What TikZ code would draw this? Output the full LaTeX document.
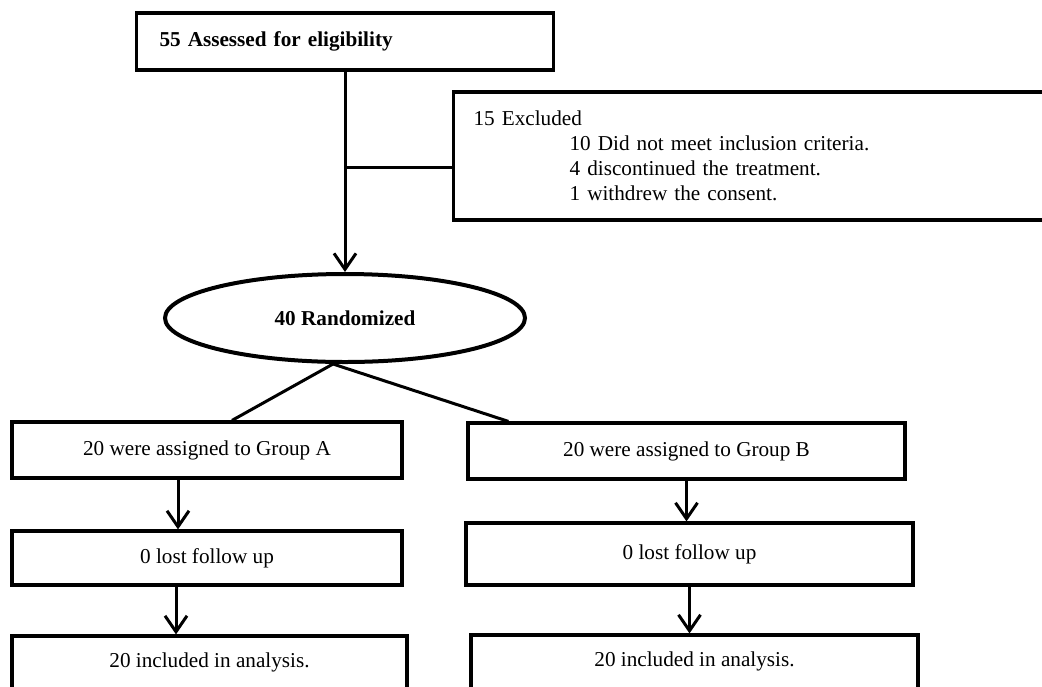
\documentclass[tikz,border=0pt]{standalone}
\usepackage{fontspec}
\setmainfont{Liberation Serif}
\usetikzlibrary{shapes.geometric,arrows.meta}

\begin{document}
\begin{tikzpicture}[x=0.5pt,y=-0.5pt,
  font=\fontsize{10.6pt}{12.5pt}\selectfont,
  box/.style={draw,rectangle,line width=1.6pt,inner sep=0pt,align=center},
  link/.style={line width=1.5pt},
  arr/.style={line width=1.5pt,-{Straight Barb[length=8pt,width=11pt]}}]
  \clip (0,0) rectangle (1042,686);
  \node[box,align=left,text width=185.5pt,inner xsep=11.5pt,minimum height=28.5pt]
    (assess) at (345,41.5) {\textbf{55 Assessed for eligibility}};
  \node[box,anchor=west,align=left,text width=286pt,inner xsep=10pt,minimum height=64pt]
    (excl) at (452,156) {15 Excluded\\
      \hspace*{48pt}10 Did not meet inclusion criteria.\\
      \hspace*{48pt}4 discontinued the treatment.\\
      \hspace*{48pt}1 withdrew the consent.};
  \node[draw,ellipse,line width=2pt,minimum width=180pt,minimum height=44pt,inner sep=0pt]
    (rand) at (345,318) {\textbf{40 Randomized}};
  \node[box,minimum width=195pt,minimum height=28pt] (grpA) at (207,450) {20 were assigned to Group A};
  \node[box,minimum width=195pt,minimum height=27pt] (lostA) at (207,558) {0 lost follow up};
  \node[box,minimum width=197.5pt,minimum height=40pt,text height=7.5pt,text depth=16.5pt]
    (anaA) at (209.5,676) {20 included in analysis.};
  \node[box,minimum width=218.5pt,minimum height=28pt] (grpB) at (686.5,451) {20 were assigned to Group B};
  \node[box,minimum width=223.5pt,minimum height=31pt] (lostB) at (689.5,554) {0 lost follow up};
  \node[box,minimum width=223.5pt,minimum height=40.5pt,text height=7.5pt,text depth=16.5pt]
    (anaB) at (694.5,675.5) {20 included in analysis.};
  \coordinate (split) at (345,167);
  \draw[arr] (assess.south) -- (assess.south |- rand.north);
  \draw[link] (split) -- (split -| excl.west);
  \draw[link] ([xshift=-6pt]rand.south) -- ([xshift=12.5pt]grpA.north);
  \draw[link] ([xshift=-6pt]rand.south) -- ([xshift=21pt]grpB.north west);
  \draw[arr] ([xshift=-14.5pt]grpA.south) -- ([xshift=-14.5pt]lostA.north);
  \draw[arr] ([xshift=-15.5pt]lostA.south) -- ([xshift=-15.5pt]lostA.south |- anaA.north);
  \draw[arr] (grpB.south) -- (grpB.south |- lostB.north);
  \draw[arr] (lostB.south) -- (lostB.south |- anaB.north);
\end{tikzpicture}
\end{document}
